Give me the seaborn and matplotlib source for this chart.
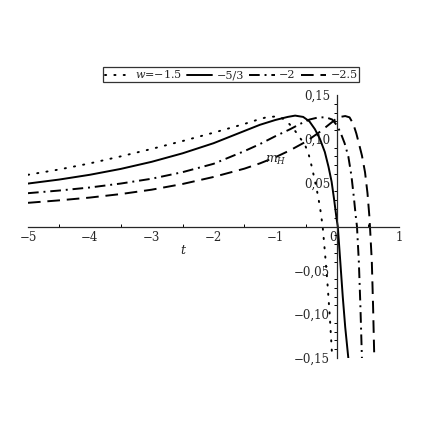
import numpy as np
import pandas as pd
import seaborn as sns
import matplotlib.pyplot as plt
import matplotlib.transforms as mtransforms
from matplotlib.ticker import MultipleLocator, FuncFormatter

# values (t, m_H)
t_15 = [-5.0, -4.5, -4.0, -3.5, -3.0, -2.5, -2.0, -1.5, -1.3, -1.15, -1.0, -0.9, -0.8, -0.7, -0.6, -0.52,
        -0.46, -0.41, -0.36, -0.31, -0.27, -0.235, -0.2, -0.16, -0.12, -0.08]
m_15 = [0.059, 0.065, 0.072, 0.080, 0.0885, 0.0975, 0.107, 0.117, 0.1215, 0.1245, 0.1255, 0.124, 0.119, 0.111, 0.101, 0.093,
        0.082, 0.068, 0.052, 0.035, 0.018, 0.0, -0.028, -0.062, -0.102, -0.150]

t_53 = [-5.0, -4.5, -4.0, -3.5, -3.0, -2.5, -2.0, -1.5, -1.25, -1.0, -0.8, -0.68, -0.55, -0.45, -0.36, -0.28,
        -0.2, -0.14, -0.09, -0.05, -0.01, 0.01, 0.05, 0.09, 0.13, 0.18]
m_53 = [0.049, 0.0535, 0.059, 0.0657, 0.0738, 0.0835, 0.095, 0.109, 0.116, 0.1215, 0.125, 0.1265, 0.125, 0.120, 0.111, 0.100,
        0.085, 0.068, 0.051, 0.031, 0.009, 0.0, -0.040, -0.080, -0.115, -0.150]

t_2 = [-5.0, -4.5, -4.0, -3.5, -3.0, -2.5, -2.0, -1.5, -1.25, -1.0, -0.76, -0.6, -0.45, -0.3, -0.18, -0.08,
       0.0, 0.06, 0.12, 0.18, 0.23, 0.27, 0.30, 0.32, 0.35, 0.375, 0.40]
m_2 = [0.038, 0.041, 0.0445, 0.049, 0.0545, 0.062, 0.0715, 0.086, 0.094, 0.103, 0.111, 0.117, 0.122, 0.1245, 0.1245, 0.122,
       0.115, 0.106, 0.095, 0.080, 0.058, 0.033, 0.012, 0.0, -0.040, -0.090, -0.150]

t_25 = [-5.0, -4.5, -4.0, -3.5, -3.0, -2.5, -2.0, -1.5, -1.25, -1.0, -0.76, -0.5, -0.28, -0.12, -0.03, 0.05,
        0.13, 0.2, 0.26, 0.31, 0.35, 0.40, 0.45, 0.49, 0.52, 0.53, 0.56, 0.58, 0.60]
m_25 = [0.027, 0.0298, 0.033, 0.037, 0.042, 0.0485, 0.0565, 0.066, 0.072, 0.079, 0.087, 0.097, 0.108, 0.117, 0.122, 0.125,
        0.126, 0.1245, 0.117, 0.106, 0.095, 0.081, 0.062, 0.038, 0.012, 0.0, -0.040, -0.090, -0.150]

labels = ['$w$=\u22121.5', '\u22125/3', '\u22122', '\u22122.5']
x_ticks = [-5, -4, -3, -2, -1, 0, 1]
y_ticks = [-0.15, -0.10, -0.05, 0.05, 0.10, 0.15]

sns.set_style('white')
plt.rcParams['font.family'] = ['DejaVu Serif']
plt.rcParams['mathtext.fontset'] = 'dejavuserif'

fig = plt.figure(figsize=(4.36, 4.36), dpi=100)
ax = fig.add_axes([0.0642, 0.1789, 0.851, 0.6032])

styles = [(0, (0.6, 4.2)), '-', (0, (5.5, 2.5, 1.0, 2.5)), (0, (6.5, 3.5))]
series = [(t_15, m_15), (t_53, m_53), (t_2, m_2), (t_25, m_25)]
for (tt, mm), lab, ls in zip(series, labels, styles):
    df = pd.DataFrame({'t': tt, 'm': mm})
    sns.lineplot(data=df, x='t', y='m', ax=ax, color='black', lw=1.4,
                 linestyle=ls, label=lab, estimator=None, sort=False,
                 dash_capstyle='round' if ls == styles[0] else 'butt')

ax.set_xlim(-5, 1)
ax.set_ylim(-0.15, 0.15)

# maple style axes crossing at the origin
for s in ['top', 'right']:
    ax.spines[s].set_visible(False)
ax.spines['left'].set_position(('data', 0))
ax.spines['bottom'].set_position(('data', 0))
ax.spines['left'].set_linewidth(0.9)
ax.spines['bottom'].set_linewidth(0.9)

ax.set_xticks(x_ticks)
ax.xaxis.set_minor_locator(MultipleLocator(0.5))
ax.set_yticks(y_ticks)
ax.yaxis.set_minor_locator(MultipleLocator(0.01))
ax.yaxis.set_major_formatter(FuncFormatter(lambda v, p: ('%.2f' % v).replace('.', ',').replace('-', '\u2212')))
ax.xaxis.set_major_formatter(FuncFormatter(lambda v, p: ('%d' % v).replace('-', '\u2212')))
ax.tick_params(axis='x', which='both', direction='in', labelsize=8.5, pad=3, color='black')
ax.tick_params(axis='x', which='major', length=4, width=0.8)
ax.tick_params(axis='x', which='minor', length=2.5, width=0.7, bottom=True)
ax.tick_params(axis='y', which='both', direction='out', labelsize=8.5, pad=1, color='black')
ax.tick_params(axis='y', which='major', length=4, width=0.8)
ax.tick_params(axis='y', which='minor', length=2.5, width=0.7, left=True)
ax.set_xlabel('')
ax.set_ylabel('')

# the "0" sits just left of the vertical axis
fig.canvas.draw()
zero_lab = ax.get_xticklabels()[x_ticks.index(0)]
zero_lab.set_transform(zero_lab.get_transform() + mtransforms.ScaledTranslation(-4 / 100, 0, fig.dpi_scale_trans))

ax.text(0.418, 0.41, '$t$', transform=ax.transAxes, fontsize=9, ha='center', va='center')
ax.text(0.668, 0.75, '$m_H$', transform=ax.transAxes, fontsize=9, ha='center', va='center')

leg = ax.legend(loc='center', bbox_to_anchor=(0.5475, 1.078), ncol=4, frameon=True,
                fontsize=8, handlelength=2.3, handletextpad=0.4, columnspacing=0.45,
                borderpad=0.12, borderaxespad=0, fancybox=False)
leg.get_frame().set_edgecolor('black')
leg.get_frame().set_linewidth(0.9)

plt.savefig('out.png', dpi=100)
